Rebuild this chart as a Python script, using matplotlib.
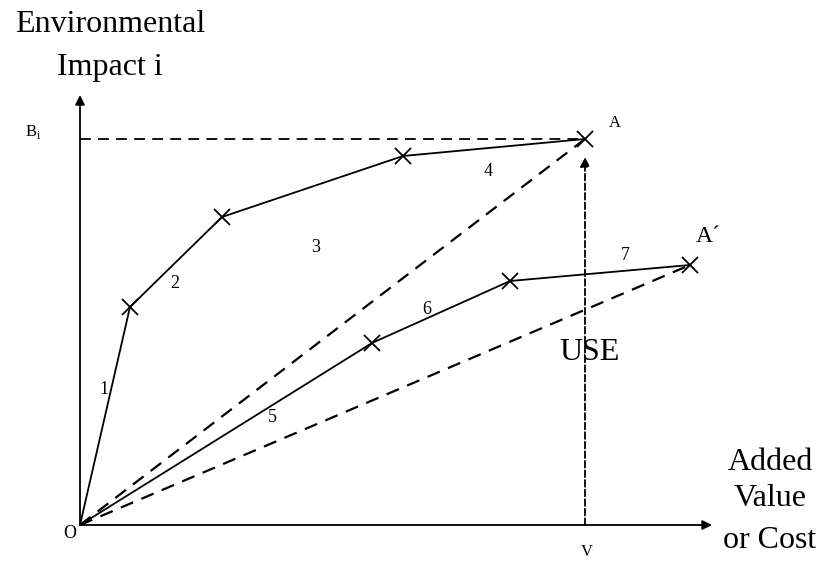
import matplotlib.pyplot as plt

# path to A: segments 1-4
path_a_x = [0, 50, 142, 323, 505]
path_a_y = [0, 218, 308, 369, 386]
# path to A': segments 5-7
path_b_x = [0, 292, 430, 610]
path_b_y = [0, 182, 244, 260]

seg_labels = ['1', '2', '3', '4', '5', '6', '7']
seg_label_x = [24, 95, 236, 408, 192, 347, 545]
seg_label_y = [135, 242, 277, 354, 107, 216, 269]

v_value = path_a_x[-1]
b_value = path_a_y[-1]
x_axis_end = 632
y_axis_end = 430

plt.rcParams['font.family'] = ['Liberation Serif', 'DejaVu Serif']

fig = plt.figure(figsize=(8.3, 5.83), dpi=100)
ax = fig.add_axes([0, 0, 1, 1])
ax.set_xlim(-80, 750)
ax.set_ylim(-58, 525)
ax.axis('off')

lw = 1.3
# axes with arrows
ax.annotate('', xy=(0, y_axis_end), xytext=(0, 0),
            arrowprops=dict(arrowstyle='-|>', color='black', lw=lw,
                            mutation_scale=14, shrinkA=0, shrinkB=0))
ax.annotate('', xy=(x_axis_end, 0), xytext=(0, 0),
            arrowprops=dict(arrowstyle='-|>', color='black', lw=lw,
                            mutation_scale=14, shrinkA=0, shrinkB=0))

dash = (0, (6, 4))
# dashed guides
ax.plot([0, v_value], [b_value, b_value], color='black', lw=lw, linestyle=dash)
ax.plot([0, path_a_x[-1]], [0, path_a_y[-1]], color='black', lw=1.6, linestyle=dash)
ax.plot([0, path_b_x[-1]], [0, path_b_y[-1]], color='black', lw=1.6, linestyle=dash)
ax.annotate('', xy=(v_value, b_value - 18), xytext=(v_value, 0),
            arrowprops=dict(arrowstyle='-|>', color='black', lw=lw, linestyle='--',
                            mutation_scale=14, shrinkA=0, shrinkB=0))

# paths
ax.plot(path_a_x, path_a_y, color='black', lw=lw)
ax.plot(path_b_x, path_b_y, color='black', lw=lw)
ax.plot(path_a_x[1:], path_a_y[1:], linestyle='none', marker='x', ms=11, mew=1.3, color='black')
ax.plot(path_b_x[1:], path_b_y[1:], linestyle='none', marker='x', ms=11, mew=1.3, color='black')

for lab, lx, ly in zip(seg_labels, seg_label_x, seg_label_y):
    ax.text(lx, ly, lab, fontsize=13, ha='center', va='center')

# point labels
ax.text(-10, -8, 'O', fontsize=13, ha='center', va='center')
ax.text(v_value + 2, -27, 'V', fontsize=12, ha='center', va='center')
ax.text(-47, b_value + 7, r'B$_\mathregular{i}$', fontsize=12, ha='center', va='center')
ax.text(path_a_x[-1] + 30, path_a_y[-1] + 16, 'A', fontsize=12, ha='center', va='center')
ax.text(path_b_x[-1] + 18, path_b_y[-1] + 28, 'A\u00b4', fontsize=17, ha='center', va='center')
ax.text(v_value + 5, 173, 'USE', fontsize=23, ha='center', va='center')

# axis titles
ax.text(30, 500, 'Environmental', fontsize=23, ha='center', va='center')
ax.text(30, 458, 'Impact i', fontsize=23, ha='center', va='center')
ax.text(690, 63, 'Added', fontsize=23, ha='center', va='center')
ax.text(690, 27, 'Value', fontsize=23, ha='center', va='center')
ax.text(690, -15, 'or Cost', fontsize=23, ha='center', va='center')

fig.savefig('out.png', dpi=100)
